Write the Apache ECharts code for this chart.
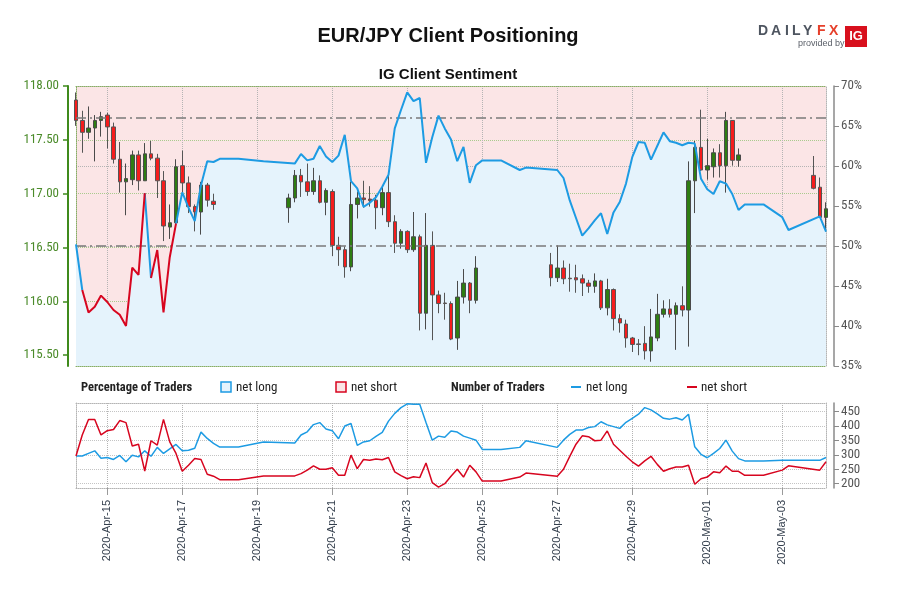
<!DOCTYPE html>
<html><head><meta charset="utf-8">
<script src="https://cdn.jsdelivr.net/npm/echarts@6/dist/echarts.min.js"></script>
<style>html,body{margin:0;padding:0;background:#fff}#c{width:900px;height:600px}</style>
</head><body><div id="c"></div>
<script>
// ---------------- DATA ----------------
const axisStart = '2020-04-14T04:00:00Z';
const axisEnd = '2020-05-04T04:00:00Z';
const dateTickLabels = ['2020-04-15','2020-04-17','2020-04-19','2020-04-21','2020-04-23','2020-04-25','2020-04-27','2020-04-29','2020-05-01','2020-05-03'];
const priceTicks = [115.5, 116.0, 116.5, 117.0, 117.5, 118.0];
const countTicks = [200, 250, 300, 350, 400, 450];

// 4-hour EUR/JPY candles, sessions start times and lengths
const sessionStart = ['2020-04-14T04:00:00Z','2020-04-19T20:00:00Z','2020-04-26T20:00:00Z','2020-05-03T20:00:00Z'];
const sessionLength = [23, 31, 31, 3];
const candleOpen = [
 117.87,117.68,117.57,117.61,117.68,117.73,117.62,117.32,117.11,117.13,117.36,117.12,117.37,117.33,117.12,116.69,116.73,117.26,117.10,116.88,116.83,117.08,116.93,
 116.87,116.96,117.17,117.11,117.02,117.12,116.92,117.02,116.52,116.48,116.32,116.90,116.96,116.95,116.94,116.87,117.01,116.74,116.54,116.65,116.48,116.60,115.89,116.52,116.06,115.985,115.98,115.66,116.04,116.17,116.01,
 116.34,116.22,116.31,116.215,116.22,116.21,116.17,116.14,116.19,115.94,116.11,115.84,115.79,115.66,115.605,115.61,115.54,115.66,115.88,115.93,115.88,115.96,115.92,117.12,117.43,117.22,117.25,117.38,117.26,117.68,117.31,
 117.17,117.06,116.78];
const candleClose = [
 117.68,117.57,117.61,117.68,117.715,117.62,117.32,117.11,117.14,117.36,117.12,117.37,117.33,117.12,116.70,116.73,117.25,117.10,116.88,116.83,117.08,116.94,116.90,
 116.96,117.17,117.11,117.02,117.12,116.92,117.03,116.52,116.48,116.32,116.90,116.96,116.945,116.935,116.87,117.01,116.74,116.54,116.65,116.48,116.60,115.89,116.52,116.06,115.98,115.98,115.65,116.04,116.17,116.01,116.31,
 116.22,116.31,116.21,116.21,116.20,116.17,116.14,116.19,115.94,116.11,115.84,115.80,115.66,115.60,115.60,115.54,115.67,115.88,115.93,115.88,115.96,115.92,117.12,117.43,117.22,117.26,117.38,117.26,117.68,117.31,117.36,
 117.05,116.78,116.86];
const candleLow = [
 117.63,117.38,117.51,117.30,117.53,117.42,117.28,117.01,116.80,117.08,117.03,117.12,117.31,116.96,116.56,116.58,116.69,117.01,116.82,116.65,116.62,116.88,116.85,
 116.73,116.92,116.97,116.98,116.99,116.91,116.80,116.42,116.33,116.22,116.28,116.77,116.87,116.88,116.67,116.80,116.69,116.45,116.49,116.45,116.46,115.73,115.74,115.64,115.89,115.83,115.64,115.55,115.98,115.89,115.98,
 116.14,116.18,116.16,116.09,116.08,116.05,116.08,116.08,115.92,115.87,115.73,115.71,115.57,115.53,115.50,115.46,115.44,115.63,115.85,115.85,115.55,115.86,115.58,116.82,117.21,117.13,117.15,117.15,117.01,117.26,117.25,
 117.04,116.78,116.65];
const candleHigh = [
 117.94,117.77,117.81,117.73,117.76,117.75,117.66,117.48,117.28,117.40,117.40,117.47,117.49,117.37,117.21,116.90,117.32,117.40,117.16,116.90,117.11,117.10,117.00,
 117.00,117.22,117.23,117.28,117.24,117.17,117.05,117.04,116.60,116.51,117.11,117.02,117.12,117.07,116.99,117.06,117.17,116.80,116.67,116.66,116.83,116.62,116.82,116.65,116.10,116.08,116.00,116.19,116.30,116.18,116.42,
 116.45,116.52,116.38,116.35,116.34,116.25,116.20,116.26,116.20,116.21,116.12,115.88,115.83,115.67,115.65,115.77,115.93,116.07,116.01,116.02,115.99,116.14,117.30,117.49,117.78,117.51,117.42,117.46,117.76,117.68,117.42,
 117.35,117.15,116.92];

// sentiment samples: hours after axisStart
const sentHours = [0,4,8,12,16,20,24,28,32,36,40,44,48,52,56,60,64,68,72,76,80,84,88,92,104,120,
 140,144,148,152,156,160,164,168,172,176,180,184,188,192,196,200,204,208,212,216,220,224,228,232,236,240,244,248,252,256,260,
 272,284,288,
 308,312,316,320,324,328,332,336,340,344,348,352,356,360,364,368,372,376,380,384,388,392,396,400,404,408,412,416,420,424,428,
 440,452,456,476,480];
const netLongPct = [50.2,44.5,41.7,42.4,43.8,43.0,42.0,41.4,40.0,47.3,46.4,56.6,46.0,49.5,41.7,48.6,52.8,56.7,54.8,53.1,57.6,60.6,60.5,60.9,60.9,60.6,
 60.3,61.5,60.7,60.9,62.5,61.2,60.5,61.3,63.9,58.1,57.2,54.9,55.4,56.1,57.4,58.9,64.7,67.0,69.2,68.1,68.5,60.4,63.6,66.3,64.7,63.3,60.6,62.4,57.9,60.1,60.7,
 60.7,59.5,59.8,
 59.5,58.5,55.7,53.5,51.3,52.2,53.2,54.1,51.5,54.2,55.5,57.8,61.1,63.0,62.9,60.8,62.5,64.2,63.1,62.9,62.6,62.9,62.8,58.4,57.1,56.5,58.1,57.8,56.5,54.5,55.2,
 55.2,53.6,52.0,53.7,51.8];
const netLongCount = [296,296,305,314,288,291,284,298,276,299,293,314,295,326,305,321,336,314,316,323,379,357,340,327,327,345,
 341,369,380,405,412,390,384,356,400,409,333,345,349,364,378,417,444,464,477,476,476,412,351,365,361,383,379,365,358,351,319,
 319,326,349,
 326,351,371,386,386,395,398,415,404,398,392,413,427,441,464,456,442,427,424,429,421,441,328,302,290,305,322,351,313,287,279,
 279,281,281,281,291];
const netShortCount = [296,369,423,423,369,384,388,419,412,331,337,244,349,334,423,345,305,243,264,287,284,233,226,214,214,227,
 227,235,247,262,250,250,255,229,229,299,252,284,281,286,283,291,241,228,217,224,221,272,204,188,200,226,250,223,264,241,209,
 209,223,237,
 226,250,295,337,366,363,349,351,383,337,316,295,276,261,279,295,267,243,252,258,258,264,198,217,223,241,238,261,243,243,229,
 229,247,262,247,276];
// hour ranges where the sentiment line is drawn red
const redSegments = [[4, 44], [48, 64]];

// ---------------- BUILD ----------------
const HOUR = 3600 * 1000;
const t0 = Date.parse(axisStart);
const tEnd = Date.parse(axisEnd);
const MONTHS = ['Jan','Feb','Mar','Apr','May','Jun','Jul','Aug','Sep','Oct','Nov','Dec'];
const tickTimes = dateTickLabels.map(s => Date.parse(s + 'T00:00:00Z'));
const fmtDate = v => { const d = new Date(v); return d.getUTCFullYear() + '-' + MONTHS[d.getUTCMonth()] + '-' + String(d.getUTCDate()).padStart(2, '0'); };

const candles = [];
let k = 0;
sessionStart.forEach((s, si) => {
  const st = Date.parse(s);
  for (let i = 0; i < sessionLength[si]; i++, k++) {
    candles.push([st + i * 4 * HOUR, candleOpen[k], candleClose[k], candleLow[k], candleHigh[k]]);
  }
});
const tOf = h => t0 + h * HOUR;
const pctData = sentHours.map((h, i) => [tOf(h), netLongPct[i]]);
const inRed = h => redSegments.some(([a, b]) => h > a && h < b);
const blueData = sentHours.map((h, i) => [tOf(h), inRed(h) ? null : netLongPct[i]]);
const redSeries = redSegments.map(([a, b]) => ({
  type: 'line', xAxisIndex: 0, yAxisIndex: 1, symbol: 'none', z: 5, silent: true,
  lineStyle: { color: '#d7051f', width: 2 },
  data: sentHours.map((h, i) => [h, i]).filter(([h]) => h >= a && h <= b).map(([h, i]) => [tOf(h), netLongPct[i]])
}));

const NARROW = '"Liberation Sans Narrow", "Roboto Condensed", "Arial Narrow", "Liberation Sans", sans-serif';
const GREEN = '#3f8a1c';
const timeAxisBase = { type: 'value', min: t0, max: tEnd };
const dottedGreen = { color: '#86ad66', type: 'dotted', width: 1 };
const dottedGray = { color: '#b4b4b4', type: 'dotted', width: 1 };
const LOGO_FONT = 'bold 14px "Liberation Sans", Arial, sans-serif';

const chart = echarts.init(document.getElementById('c'), null, { renderer: 'canvas' });
chart.setOption({
  animation: false,
  backgroundColor: '#fff',
  title: [
    { text: 'EUR/JPY Client Positioning', left: 443, top: 21, textAlign: 'center',
      textStyle: { fontFamily: 'Liberation Sans, Arial, sans-serif', fontWeight: 'bold', fontSize: 20, color: '#111' } },
    { text: 'IG Client Sentiment', left: 443, top: 62, textAlign: 'center',
      textStyle: { fontFamily: 'Liberation Sans, Arial, sans-serif', fontWeight: 'bold', fontSize: 15, color: '#111' } }
  ],
  grid: [
    { left: 76, right: 74, top: 86, height: 280, show: true, backgroundColor: '#fbe5e6', borderWidth: 0 },
    { left: 76, right: 74, top: 403, height: 85, show: false }
  ],
  xAxis: [
    Object.assign({}, timeAxisBase, { gridIndex: 0, position: 'bottom',
      axisLine: { show: true, lineStyle: dottedGreen }, axisTick: { show: false, customValues: tickTimes },
      axisLabel: { show: false }, splitLine: { show: true, lineStyle: dottedGray } }),
    Object.assign({}, timeAxisBase, { gridIndex: 0, position: 'top',
      axisLine: { show: true, lineStyle: dottedGreen }, axisTick: { show: false }, axisLabel: { show: false }, splitLine: { show: false } }),
    Object.assign({}, timeAxisBase, { gridIndex: 1, position: 'bottom',
      axisLine: { show: true, lineStyle: dottedGray },
      axisTick: { show: true, length: 7, customValues: tickTimes, lineStyle: { color: '#9a9a9a' } },
      axisLabel: { show: true, customValues: tickTimes, rotate: 90, margin: 12, formatter: fmtDate,
        color: '#343f4d', fontSize: 11, fontFamily: 'Liberation Sans, Arial, sans-serif' },
      splitLine: { show: true, lineStyle: dottedGray } }),
    Object.assign({}, timeAxisBase, { gridIndex: 1, position: 'top',
      axisLine: { show: true, lineStyle: dottedGray }, axisTick: { show: false }, axisLabel: { show: false }, splitLine: { show: false } })
  ],
  yAxis: [
    { type: 'value', gridIndex: 0, min: 115.4, max: 118, position: 'left', offset: 8,
      axisLine: { show: true, lineStyle: { color: GREEN, width: 2 } },
      axisTick: { show: true, length: 5, customValues: priceTicks, lineStyle: { color: GREEN, width: 1.5 } },
      axisLabel: { customValues: priceTicks, formatter: v => v.toFixed(2), color: '#4b8b2a', fontSize: 13, fontFamily: NARROW, margin: 9 },
      splitLine: { show: true, lineStyle: { color: '#a9cb8e', type: 'dotted' } } },
    { type: 'value', gridIndex: 0, min: 35, max: 70, interval: 5, position: 'right', offset: 8,
      axisLine: { show: true, lineStyle: { color: '#8a8a8a', width: 1.5 } },
      axisTick: { show: true, length: 5, lineStyle: { color: '#8a8a8a' } },
      axisLabel: { formatter: '{value}%', color: '#555', fontSize: 13, fontFamily: NARROW, margin: 7 },
      splitLine: { show: false } },
    { type: 'value', gridIndex: 0, min: 115.4, max: 118, position: 'left', offset: 0,
      axisLine: { show: true, lineStyle: dottedGreen }, axisTick: { show: false }, axisLabel: { show: false }, splitLine: { show: false } },
    { type: 'value', gridIndex: 0, min: 35, max: 70, position: 'right', offset: 0,
      axisLine: { show: true, lineStyle: dottedGray }, axisTick: { show: false, customValues: [40, 50, 60] },
      axisLabel: { show: false }, splitLine: { show: true, lineStyle: dottedGray } },
    { type: 'value', gridIndex: 1, min: 185, max: 480, position: 'right', offset: 8,
      axisLine: { show: true, lineStyle: { color: '#8a8a8a', width: 1.5 } },
      axisTick: { show: true, length: 5, customValues: countTicks, lineStyle: { color: '#8a8a8a' } },
      axisLabel: { customValues: countTicks, color: '#555', fontSize: 13, fontFamily: NARROW, margin: 7 },
      splitLine: { show: true, lineStyle: { color: '#c4c4c4', type: 'dotted' } } },
    { type: 'value', gridIndex: 1, min: 185, max: 480, position: 'left', offset: 0,
      axisLine: { show: true, lineStyle: dottedGray }, axisTick: { show: false }, axisLabel: { show: false }, splitLine: { show: false } },
    { type: 'value', gridIndex: 1, min: 185, max: 480, position: 'right', offset: 0,
      axisLine: { show: true, lineStyle: dottedGray }, axisTick: { show: false }, axisLabel: { show: false }, splitLine: { show: false } }
  ],
  series: [
    { name: 'net long %', type: 'line', xAxisIndex: 0, yAxisIndex: 1, symbol: 'none', silent: true, z: 1,
      data: pctData, lineStyle: { width: 0, opacity: 0 },
      areaStyle: { color: '#e5f3fc', opacity: 1, origin: 'start' },
      markLine: { silent: true, symbol: 'none', label: { show: false }, animation: false,
        lineStyle: { color: '#7a7a7a', width: 1.5, type: [10, 4, 2, 4] },
        data: [{ yAxis: 50 }, { yAxis: 66 }] } },
    { name: 'EUR/JPY', type: 'candlestick', xAxisIndex: 0, yAxisIndex: 0, z: 3, clip: false,
      encode: { x: 0, y: [1, 2, 3, 4] }, barWidth: 4,
      itemStyle: { color: '#2e7d12', color0: '#f51c1c', borderColor: '#4a4a4a', borderColor0: '#555', borderWidth: 1 },
      data: candles },
    { name: 'net long line', type: 'line', xAxisIndex: 0, yAxisIndex: 1, symbol: 'none', z: 5, silent: true,
      lineStyle: { color: '#1d9be3', width: 2 }, data: blueData },
    ...redSeries,
    { name: 'net long count', type: 'line', xAxisIndex: 2, yAxisIndex: 4, symbol: 'none', silent: true,
      lineStyle: { color: '#1d9be3', width: 1.5 }, data: sentHours.map((h, i) => [tOf(h), netLongCount[i]]) },
    { name: 'net short count', type: 'line', xAxisIndex: 2, yAxisIndex: 4, symbol: 'none', silent: true,
      lineStyle: { color: '#d7051f', width: 1.5 }, data: sentHours.map((h, i) => [tOf(h), netShortCount[i]]) }
  ],
  graphic: [
    // legend row
    { type: 'text', left: 81, top: 381, style: { text: 'Percentage of Traders', font: 'bold 12.5px ' + NARROW, fill: '#222' } },
    { type: 'rect', shape: { x: 221, y: 382, width: 10, height: 10 }, style: { fill: '#e5f3fc', stroke: '#1d9be3', lineWidth: 1.5 } },
    { type: 'text', left: 236, top: 381, style: { text: 'net long', font: '13px ' + NARROW, fill: '#222' } },
    { type: 'rect', shape: { x: 336, y: 382, width: 10, height: 10 }, style: { fill: '#fbe5e6', stroke: '#d7051f', lineWidth: 1.5 } },
    { type: 'text', left: 351, top: 381, style: { text: 'net short', font: '13px ' + NARROW, fill: '#222' } },
    { type: 'text', left: 451, top: 381, style: { text: 'Number of Traders', font: 'bold 12.5px ' + NARROW, fill: '#222' } },
    { type: 'line', shape: { x1: 571, y1: 387, x2: 581, y2: 387 }, style: { stroke: '#1d9be3', lineWidth: 2 } },
    { type: 'text', left: 586, top: 381, style: { text: 'net long', font: '13px ' + NARROW, fill: '#222' } },
    { type: 'line', shape: { x1: 687, y1: 387, x2: 697, y2: 387 }, style: { stroke: '#d7051f', lineWidth: 2 } },
    { type: 'text', left: 701, top: 381, style: { text: 'net short', font: '13px ' + NARROW, fill: '#222' } },
    // DailyFX logo
    { type: 'group', left: 758, top: 24, children: [
      { type: 'text', x: 0, y: 0, style: { text: 'D', font: LOGO_FONT, fill: '#4e5560' } },
      { type: 'text', x: 13, y: 0, style: { text: 'A', font: LOGO_FONT, fill: '#4e5560' } },
      { type: 'text', x: 27, y: 0, style: { text: 'I', font: LOGO_FONT, fill: '#4e5560' } },
      { type: 'text', x: 34, y: 0, style: { text: 'L', font: LOGO_FONT, fill: '#4e5560' } },
      { type: 'text', x: 45, y: 0, style: { text: 'Y', font: LOGO_FONT, fill: '#4e5560' } },
      { type: 'text', x: 59, y: 0, style: { text: 'F', font: LOGO_FONT, fill: '#e6402b' } },
      { type: 'text', x: 71, y: 0, style: { text: 'X', font: LOGO_FONT, fill: '#e6402b' } },
      { type: 'text', x: 40, y: 15, style: { text: 'provided by', font: '9px Liberation Sans, Arial', fill: '#5a5f68' } },
      { type: 'rect', shape: { x: 87, y: 2, width: 22, height: 21 }, style: { fill: '#d8101d' } },
      { type: 'text', x: 98, y: 12.5, style: { text: 'IG', font: 'bold 13px Liberation Sans, Arial', fill: '#fff', align: 'center', verticalAlign: 'middle' } }
    ] }
  ]
});
</script>
</body></html>
